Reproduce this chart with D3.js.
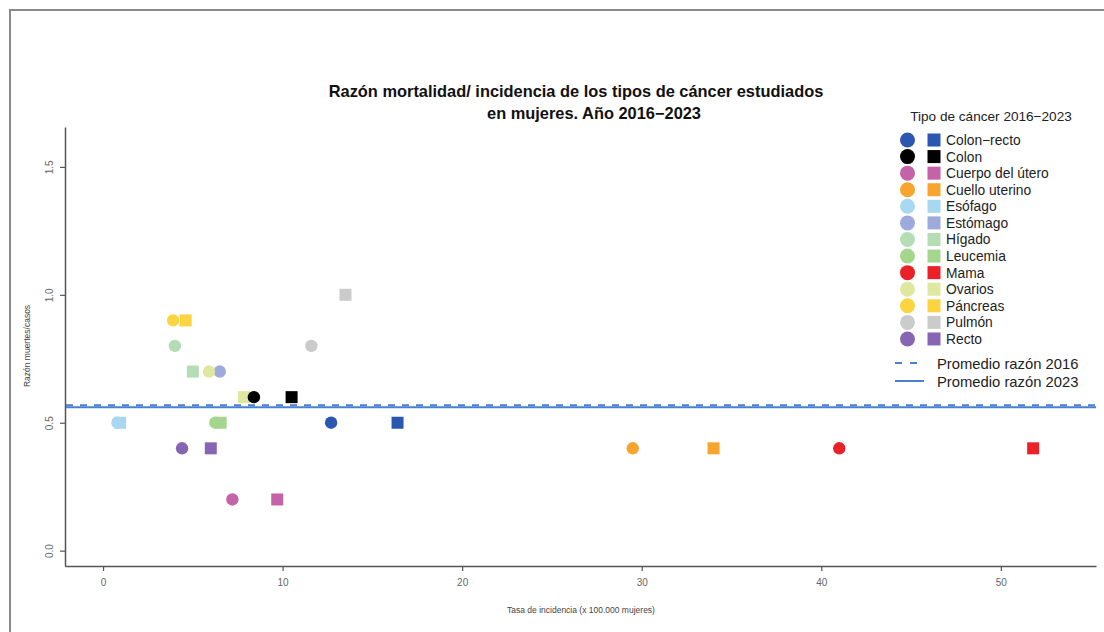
<!DOCTYPE html>
<html>
<head>
<meta charset="utf-8">
<script src="https://cdn.jsdelivr.net/npm/d3@7"></script>
<style>
  body { margin: 0; background: #fff; }
  svg { display: block; font-family: "Liberation Sans", Arial, sans-serif; }
</style>
</head>
<body>
<svg id="chart" width="1104" height="632"></svg>
<script>
// tipos de cancer, en el orden de la leyenda
const categories = ["Colon\u2212recto", "Colon", "Cuerpo del útero", "Cuello uterino", "Esófago",
  "Estómago", "Hígado", "Leucemia", "Mama", "Ovarios", "Páncreas", "Pulmón", "Recto"];
const colors = ["#2b57b0", "#000000", "#c463a8", "#f7a52f", "#a8d8f0", "#9daadb", "#b5ddb5",
  "#a5d68e", "#ea2127", "#dfe8a0", "#fcd441", "#cbcbcb", "#8865b4"];

// 2016 = circulo, 2023 = cuadrado
const x2016 = [12.7, 8.4, 7.2, 29.5, 0.8, 6.5, 4.0, 6.25, 41.0, 5.9, 3.9, 11.6, 4.4];
const y2016 = [0.5, 0.6, 0.2, 0.4, 0.5, 0.7, 0.8, 0.5, 0.4, 0.7, 0.9, 0.8, 0.4];
const x2023 = [16.4, 10.5, 9.7, 34.0, 0.95, null, 5.0, 6.55, 51.8, 7.85, 4.6, 13.5, 6.0];
const y2023 = [0.5, 0.6, 0.2, 0.4, 0.5, null, 0.7, 0.5, 0.4, 0.6, 0.9, 1.0, 0.4];

const avgLabels = ["Promedio razón 2016", "Promedio razón 2023"];
const avgValues = [0.568, 0.561];

const xTicks = [0, 10, 20, 30, 40, 50];
const yTicks = [0, 0.5, 1.0, 1.5];

const LINE_COLOR = "#4a7fd2";
const AXIS_COLOR = "#555";

let svg = d3.select("#chart");

// marco de la figura
svg.append("path")
  .attr("d", "M1104,10 H10 V632")
  .attr("fill", "none").attr("stroke", "#8a8a8a").attr("stroke-width", 2);

let x = d3.scaleLinear().domain([-2.12, 55.3]).range([65, 1096]);
let y = d3.scaleLinear().domain([-0.06, 1.656]).range([566, 127]);

let xAxis = d3.axisBottom(x).tickValues(xTicks).tickSize(5).tickSizeOuter(0).tickPadding(8);
let yAxis = d3.axisLeft(y).tickValues(yTicks).tickSize(5).tickSizeOuter(0)
  .tickFormat(d3.format(".1f"));

let gx = svg.append("g").attr("transform", "translate(0,566)").call(xAxis);
let gy = svg.append("g").attr("transform", "translate(65,0)").call(yAxis);

for (let g of [gx, gy]) {
  g.select(".domain").attr("stroke", AXIS_COLOR).attr("stroke-width", 1.5);
  g.selectAll(".tick line").attr("stroke", AXIS_COLOR).attr("stroke-width", 1.2);
  g.selectAll(".tick text").attr("fill", "#666").attr("font-size", 10)
    .attr("font-family", "Liberation Sans, Arial, sans-serif");
}
// etiquetas del eje y giradas como en R
gy.selectAll(".tick text")
  .attr("text-anchor", "middle").attr("x", null).attr("dy", null).attr("y", 0)
  .attr("dominant-baseline", "middle")
  .attr("transform", "translate(-15,0) rotate(-90)");

// lineas de promedio
svg.selectAll(".avg").data(avgValues).join("line")
  .attr("x1", 66).attr("x2", 1096)
  .attr("y1", d => y(d)).attr("y2", d => y(d))
  .attr("stroke", LINE_COLOR).attr("stroke-width", 2)
  .attr("stroke-dasharray", (d, i) => i === 0 ? "7,7" : null);

// puntos
let pts2023 = categories.map((c, i) => ({ i, x: x2023[i], y: y2023[i] })).filter(d => d.x !== null);
let pts2016 = categories.map((c, i) => ({ i, x: x2016[i], y: y2016[i] })).filter(d => d.x !== null);

svg.append("g").selectAll("rect").data(pts2023).join("rect")
  .attr("x", d => x(d.x) - 6).attr("y", d => y(d.y) - 6)
  .attr("width", 12).attr("height", 12)
  .attr("fill", d => colors[d.i]);

svg.append("g").selectAll("circle").data(pts2016).join("circle")
  .attr("cx", d => x(d.x)).attr("cy", d => y(d.y)).attr("r", 6.2)
  .attr("fill", d => colors[d.i]);

// titulo
let title = svg.append("text").attr("font-weight", "bold").attr("font-size", 16.4).attr("fill", "#111")
  .attr("text-anchor", "middle");
title.append("tspan").attr("x", 576).attr("y", 97)
  .text("Razón mortalidad/ incidencia de los tipos de cáncer estudiados");
title.append("tspan").attr("x", 594).attr("y", 119)
  .text("en mujeres. Año 2016\u22122023");

// titulos de los ejes
svg.append("text").attr("x", 581).attr("y", 613).attr("text-anchor", "middle")
  .attr("font-size", 8.5).attr("fill", "#444")
  .text("Tasa de incidencia (x 100.000 mujeres)");
svg.append("text").attr("transform", "translate(30,346) rotate(-90)").attr("text-anchor", "middle")
  .attr("font-size", 8.5).attr("fill", "#444")
  .text("Razón muertes/casos");

// leyenda
let leg = svg.append("g");
leg.append("text").attr("x", 991).attr("y", 121).attr("text-anchor", "middle")
  .attr("font-size", 13.6).attr("fill", "#222").text("Tipo de cáncer 2016\u22122023");

let rowY = i => 140 + i * 16.58;
let rows = leg.selectAll(".row").data(categories).join("g")
  .attr("transform", (d, i) => `translate(0,${rowY(i)})`);
rows.append("circle").attr("cx", 907.5).attr("cy", 0).attr("r", 7.5)
  .attr("fill", (d, i) => colors[i]);
rows.append("rect").attr("x", 927.5).attr("y", -6.5).attr("width", 13).attr("height", 13)
  .attr("fill", (d, i) => colors[i]);
rows.append("text").attr("x", 946).attr("y", 5).attr("font-size", 13.8).attr("fill", "#222")
  .text(d => d);

let lrows = leg.selectAll(".lrow").data(avgLabels).join("g")
  .attr("transform", (d, i) => `translate(0,${363 + i * 18})`);
lrows.append("line").attr("x1", 895).attr("x2", 924).attr("y1", 0).attr("y2", 0)
  .attr("stroke", LINE_COLOR).attr("stroke-width", 2)
  .attr("stroke-dasharray", (d, i) => i === 0 ? "7,8" : null);
lrows.append("text").attr("x", 937).attr("y", 5.5).attr("font-size", 14.8).attr("fill", "#222")
  .text(d => d);
</script>
</body>
</html>
